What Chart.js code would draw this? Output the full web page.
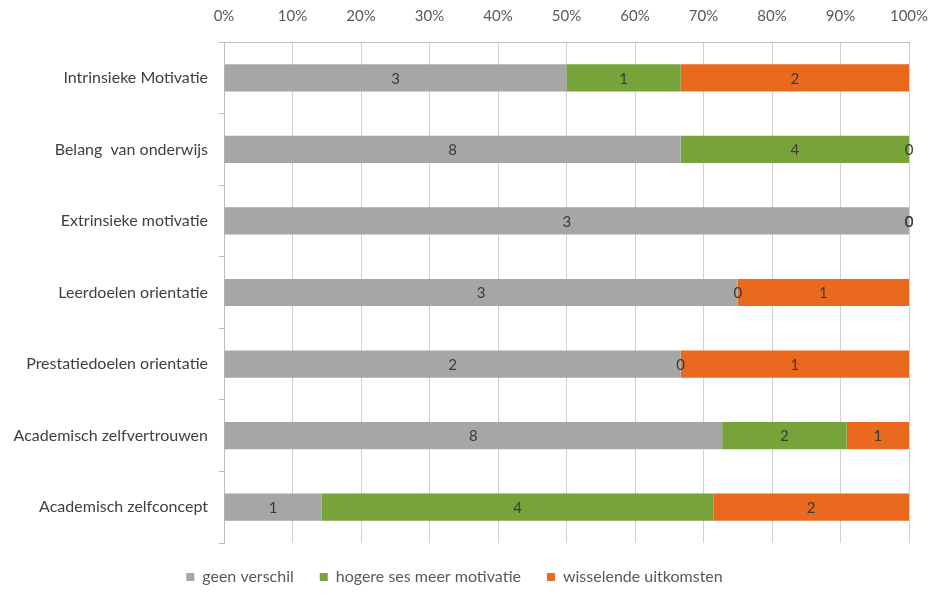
<!DOCTYPE html>
<html>
<head>
<meta charset="utf-8">
<script src="https://cdn.jsdelivr.net/npm/chart.js@4/dist/chart.umd.min.js"></script>
<style>
html,body{margin:0;padding:0;background:#fff;}
#wrap{width:931px;height:595px;position:relative;}
</style>
</head>
<body>
<div id="wrap"><canvas id="c"></canvas></div>
<script>
const categories = ["Intrinsieke Motivatie","Belang  van onderwijs","Extrinsieke motivatie","Leerdoelen orientatie","Prestatiedoelen orientatie","Academisch zelfvertrouwen","Academisch zelfconcept"];
const geenVerschil = [3, 8, 3, 3, 2, 8, 1];
const hogereSes = [1, 4, 0, 0, 0, 2, 4];
const wisselend = [2, 0, 0, 1, 1, 1, 2];
const seriesNames = ["geen verschil","hogere ses meer motivatie","wisselende uitkomsten"];
const xTicks = ["0%","10%","20%","30%","40%","50%","60%","70%","80%","90%","100%"];

const totals = categories.map((_, i) => geenVerschil[i] + hogereSes[i] + wisselend[i]);
const toPct = arr => arr.map((v, i) => v / totals[i] * 100);
const counts = [geenVerschil, hogereSes, wisselend];
const colors = ["#a6a6a6", "#78a33b", "#e9691f"];

const FONT = "Lato, 'Open Sans', sans-serif";

const labelPlugin = {
  id: 'countLabels',
  afterDatasetsDraw(chart) {
    const ctx = chart.ctx;
    ctx.save();
    ctx.font = "15px " + FONT;
    ctx.fillStyle = "#3a3a3a";
    ctx.textAlign = "center";
    ctx.textBaseline = "middle";
    chart.data.datasets.forEach((ds, di) => {
      const meta = chart.getDatasetMeta(di);
      meta.data.forEach((bar, i) => {
        const x = (bar.x + bar.base) / 2;
        ctx.fillText(String(counts[di][i]), x, bar.y + 1);
      });
    });
    ctx.restore();
  }
};

new Chart(document.getElementById('c'), {
  type: 'bar',
  data: {
    labels: categories,
    datasets: seriesNames.map((n, k) => ({
      label: n,
      data: toPct(counts[k]),
      backgroundColor: colors[k],
      borderWidth: 0,
      barPercentage: 0.38,
      categoryPercentage: 1.0
    }))
  },
  options: {
    indexAxis: 'y',
    responsive: true,
    maintainAspectRatio: false,
    animation: false,
    layout: { padding: { left: 0, right: 22, top: 0, bottom: 0 } },
    scales: {
      x: {
        position: 'top',
        stacked: true,
        min: 0, max: 100,
        ticks: {
          stepSize: 10,
          color: "#595959",
          font: { family: FONT, size: 15 },
          padding: 17,
          callback: (v, i) => xTicks[i]
        },
        grid: { color: "#d0d0d0", tickLength: 0, drawTicks: false },
        border: { color: "#bdbdbd" },
        afterFit: s => { s.height = 42; s.paddingLeft = 0; s.paddingRight = 0; }
      },
      y: {
        stacked: true,
        ticks: {
          color: "#404040",
          font: { family: FONT, size: 16 },
          padding: 11
        },
        grid: { drawOnChartArea: false, color: "#bdbdbd", tickLength: 5, offset: true },
        border: { color: "#bdbdbd" },
        afterFit: s => { s.width = 224; s.paddingTop = 0; s.paddingBottom = 0; }
      }
    },
    plugins: {
      legend: {
        position: 'bottom',
        labels: {
          boxWidth: 8, boxHeight: 8,
          color: "#595959",
          font: { family: FONT, size: 16 },
          padding: 26
        }
      },
      tooltip: { enabled: false }
    }
  },
  plugins: [labelPlugin]
});
</script>
</body>
</html>
